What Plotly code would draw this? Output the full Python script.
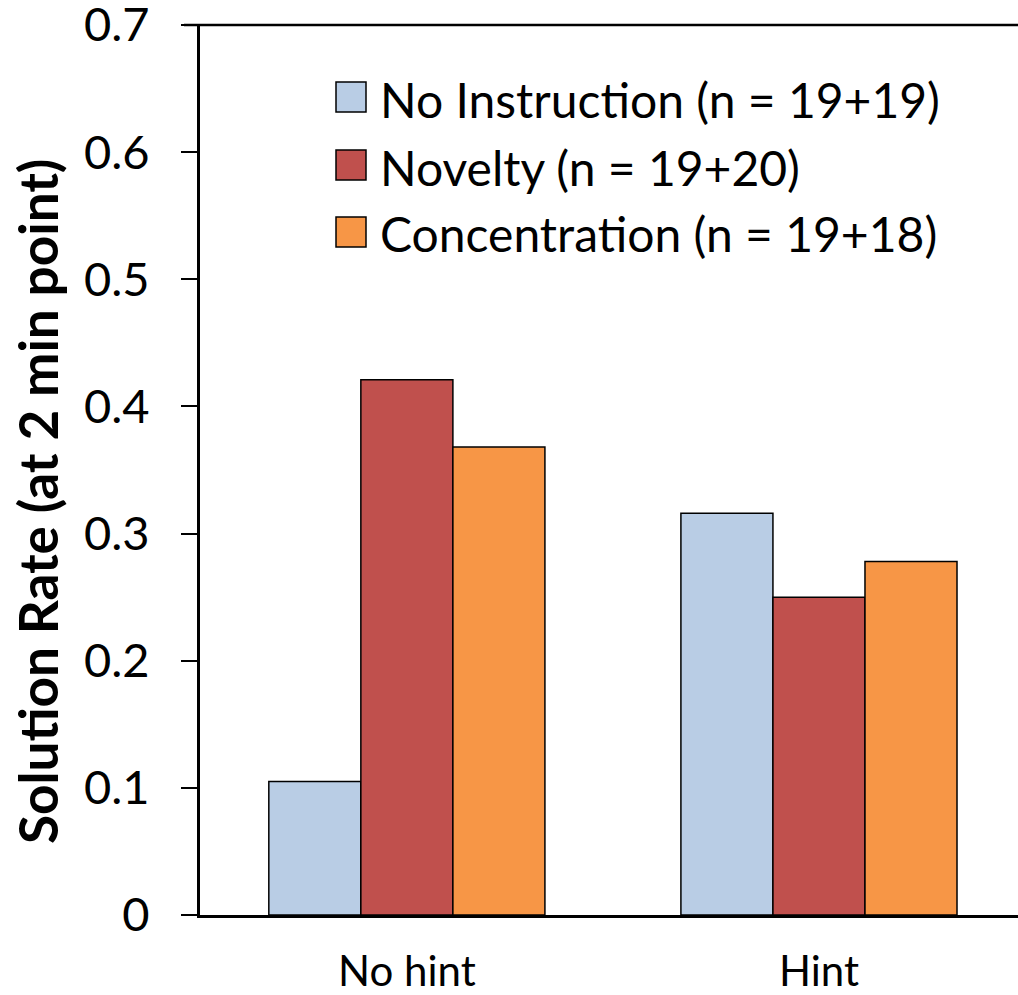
import plotly.graph_objects as go

categories = ["No hint", "Hint"]
series_names = ["No Instruction (n = 19+19)", "Novelty (n = 19+20)", "Concentration (n = 19+18)"]
no_instruction = [0.105, 0.316]
novelty = [0.421, 0.25]
concentration = [0.368, 0.278]
colors = ["#B9CDE5", "#C0504D", "#F79646"]
y_ticks = [0, 0.1, 0.2, 0.3, 0.4, 0.5, 0.6, 0.7]
y_ticktext = ["0", "0.1", "0.2", "0.3", "0.4", "0.5", "0.6", "0.7"]

FONT = "Lato"
fig = go.Figure()
for name, vals, col in zip(series_names, [no_instruction, novelty, concentration], colors):
    fig.add_trace(go.Bar(x=categories, y=vals, name=name, marker=dict(color=col, line=dict(color="black", width=1.5)), showlegend=False))

W, H = 1018, 995
ml, mr, mt, mb = 200, 0, 25, 80
fig.update_layout(
    width=W, height=H, margin=dict(l=ml, r=mr, t=mt, b=mb, autoexpand=False),
    paper_bgcolor="white", plot_bgcolor="white",
    barmode="group", bargap=0.33, bargroupgap=0,
    font=dict(family=FONT, size=36, color="black"),
    xaxis=dict(type="category", range=[-0.502, 1.483], showline=True, linecolor="black", linewidth=3,
               ticks="", tickfont=dict(size=42), showgrid=False, zeroline=False, ticklabelstandoff=18,
               automargin=False),
    yaxis=dict(range=[0, 0.7], tickvals=y_ticks, ticktext=y_ticktext, showline=True, linecolor="black", linewidth=3,
               ticks="outside", ticklen=16, tickwidth=2, tickcolor="black", showgrid=False, zeroline=False,
               tickfont=dict(size=47), ticklabelstandoff=22, ticklabeloverflow="allow", automargin=False),
)
# top border line
fig.add_shape(type="line", xref="paper", yref="paper", x0=-16/818, x1=1, y0=1, y1=1,
              line=dict(color="black", width=2.5), layer="above")
# y title
fig.add_annotation(text="<b>Solution Rate (at 2 min point)</b>", xref="paper", yref="paper", x=(38-ml)/818, y=1-(502-mt)/890,
                   textangle=-90, showarrow=False, font=dict(size=53, family=FONT), xanchor="center", yanchor="middle")
# legend
ys = [97, 165, 232]
for name, col, yc in zip(series_names, colors, ys):
    fig.add_shape(type="rect", xref="paper", yref="paper",
                  x0=(336-ml)/818, x1=(366-ml)/818, y0=1-(yc+15-mt)/890, y1=1-(yc-15-mt)/890,
                  fillcolor=col, line=dict(color="black", width=1.5))
    fig.add_annotation(text=name, xref="paper", yref="paper", x=(378-ml)/818, y=1-(yc+2-mt)/890,
                       showarrow=False, xanchor="left", yanchor="middle", font=dict(size=48, family=FONT))
fig.write_html("out.html")
